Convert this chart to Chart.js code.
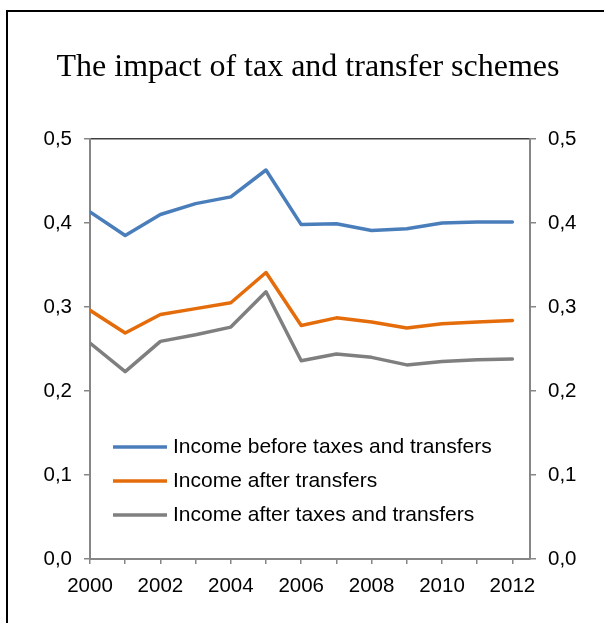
<!DOCTYPE html>
<html>
<head>
<meta charset="utf-8">
<script src="https://cdn.jsdelivr.net/npm/chart.js@4"></script>
<style>
    html, body { margin: 0; padding: 0; background: #fff; overflow: hidden; }
    #frame { position: absolute; left: 6px; top: 10px; width: 700px; height: 700px; border: 2px solid #000; }
    #chart { position: absolute; left: 0; top: 0; }
</style>
</head>
<body>
<div id="frame"></div>
<canvas id="chart" width="604" height="623"></canvas>
<script>
// Datos
const years = [2000, 2001, 2002, 2003, 2004, 2005, 2006, 2007, 2008, 2009, 2010, 2011, 2012];
const yearLabels = ['2000', '2002', '2004', '2006', '2008', '2010', '2012'];
const yTickValues = [0, 0.1, 0.2, 0.3, 0.4, 0.5];

const seriesNames = [
    'Income before taxes and transfers',
    'Income after transfers',
    'Income after taxes and transfers'
];
const beforeTaxes = [0.413, 0.385, 0.410, 0.423, 0.431, 0.463, 0.398, 0.399, 0.391, 0.393, 0.400, 0.401, 0.401];
const afterTransfers = [0.296, 0.269, 0.291, 0.298, 0.305, 0.341, 0.278, 0.287, 0.282, 0.275, 0.280, 0.282, 0.284];
const afterTaxesTransfers = [0.257, 0.223, 0.259, 0.267, 0.276, 0.318, 0.236, 0.244, 0.240, 0.231, 0.235, 0.237, 0.238];

const seriesColors = ['#4a7ebb', '#e46c0a', '#7f7f7f'];
const axisColor = '#868686';

function toPoints(values) {
    return values.map((v, i) => ({ x: years[i], y: v }));
}

function commaLabel(v) {
    return v.toFixed(1).replace('.', ',');
}

// Leyenda dibujada dentro del área del gráfico
const insideLegend = {
    id: 'insideLegend',
    afterDraw(chart) {
        const ctx = chart.ctx;
        const area = chart.chartArea;
        const x0 = area.left + 23;
        const y0 = area.top + 308;
        ctx.save();
        ctx.font = '21px "Liberation Sans", Arial, sans-serif';
        ctx.textBaseline = 'middle';
        ctx.textAlign = 'left';
        chart.data.datasets.forEach((ds, i) => {
            const y = y0 + i * 34;
            ctx.strokeStyle = ds.borderColor;
            ctx.lineWidth = 3.5;
            ctx.beginPath();
            ctx.moveTo(x0, y);
            ctx.lineTo(x0 + 54, y);
            ctx.stroke();
            ctx.fillStyle = '#000';
            ctx.fillText(ds.label, x0 + 60, y);
        });
        ctx.restore();
    }
};

const tickFont = { family: '"Liberation Sans", Arial, sans-serif', size: 20.5 };

const ctx = document.getElementById('chart').getContext('2d');
const chart = new Chart(ctx, {
    type: 'line',
    data: {
        datasets: [beforeTaxes, afterTransfers, afterTaxesTransfers].map((vals, i) => ({
            label: seriesNames[i],
            data: toPoints(vals),
            borderColor: seriesColors[i],
            backgroundColor: seriesColors[i],
            borderWidth: 3.5,
            borderJoinStyle: 'round',
            borderCapStyle: 'round',
            pointRadius: 0,
            tension: 0,
            fill: false
        }))
    },
    options: {
        responsive: false,
        animation: false,
        layout: { padding: { left: 12, right: 0, top: 0, bottom: 0 } },
        plugins: {
            legend: { display: false },
            tooltip: { enabled: false },
            title: {
                display: true,
                text: 'The impact of tax and transfer schemes',
                color: '#000',
                font: { family: '"Liberation Serif", "Times New Roman", serif', size: 32, weight: 'normal', lineHeight: 1.2 },
                padding: { top: 48.5, bottom: 52 }
            }
        },
        scales: {
            x: {
                type: 'linear',
                min: 2000,
                max: 2012.5,
                afterBuildTicks: scale => { scale.ticks = years.map(v => ({ value: v })); },
                afterFit: scale => { scale.height = 64; },
                ticks: {
                    color: '#000',
                    font: tickFont,
                    padding: 10,
                    maxRotation: 0,
                    autoSkip: false,
                    callback: v => yearLabels.includes(String(v)) ? String(v) : ''
                },
                grid: { drawOnChartArea: false, tickLength: 5, color: axisColor, lineWidth: 1.5 },
                border: { color: axisColor, width: 2 }
            },
            y: {
                position: 'left',
                min: 0,
                max: 0.5,
                afterBuildTicks: scale => { scale.ticks = yTickValues.map(v => ({ value: v })); },
                afterFit: scale => { scale.width = 78; },
                ticks: { color: '#000', font: tickFont, padding: 12, callback: v => commaLabel(v) },
                grid: {
                    drawOnChartArea: true,
                    tickLength: 6,
                    tickColor: axisColor,
                    color: c => (c.tick && c.tick.value === 0.5) ? '#404040' : 'rgba(0,0,0,0)',
                    lineWidth: 1.5
                },
                border: { color: axisColor, width: 2 }
            },
            y2: {
                position: 'right',
                min: 0,
                max: 0.5,
                afterBuildTicks: scale => { scale.ticks = yTickValues.map(v => ({ value: v })); },
                afterFit: scale => { scale.width = 74; },
                ticks: { color: '#000', font: tickFont, padding: 12, callback: v => commaLabel(v) },
                grid: { drawOnChartArea: false, tickLength: 6, color: axisColor, lineWidth: 1.5 },
                border: { color: axisColor, width: 2 }
            }
        }
    },
    plugins: [insideLegend]
});
</script>
</body>
</html>
